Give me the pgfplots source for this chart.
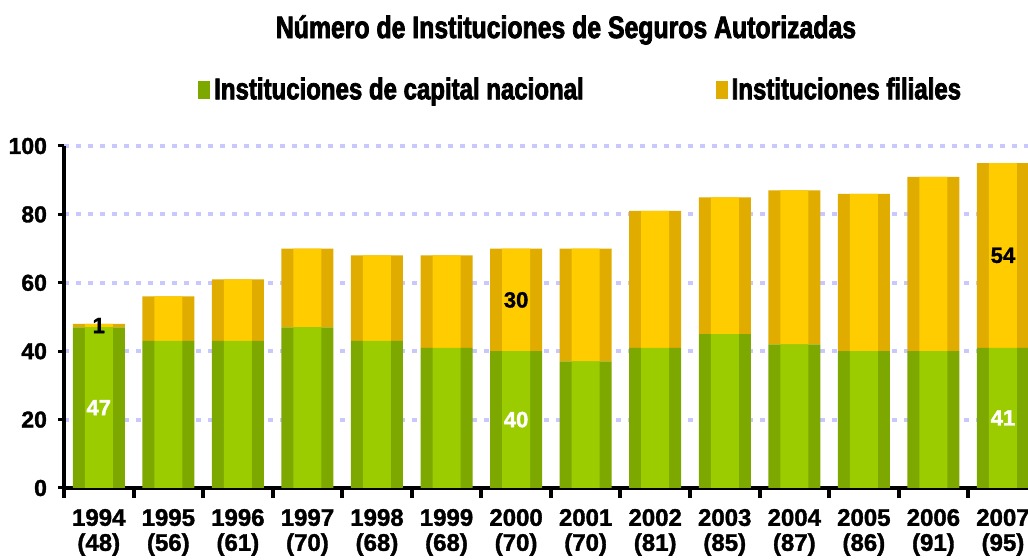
\documentclass[border=0pt]{standalone}
\usepackage{fontspec}
\setmainfont{Liberation Sans}
\newfontfamily\heavyfont[FakeStretch=0.8, FakeBold=2.5]{Liberation Sans Bold}
\newfontfamily\tickfont[FakeBold=1.5]{Liberation Sans Bold}
\usepackage{pgfplots}
\pgfplotsset{compat=1.18}
\usepackage{pgfplotstable}

\definecolor{grnL}{HTML}{9ACC00}
\definecolor{grnM}{HTML}{7DA800}
\definecolor{ylwL}{HTML}{FFCC00}
\definecolor{ylwM}{HTML}{E0AC00}
\definecolor{gridc}{HTML}{C8C8FF}

% year index, capital nacional, filiales
\pgfplotstableread{
x nac fil
0 47 1
1 43 13
2 43 18
3 47 23
4 43 25
5 41 27
6 40 30
7 37 33
8 41 40
9 45 40
10 42 45
11 40 46
12 40 51
13 41 54
}\instdata

\pgfplotsset{
  instaxis/.style={
    at={(32pt,36pt)}, anchor=south west, scale only axis,
    width=482pt, height=171pt,
    ybar stacked,
    xmin=-0.5, xmax=13.36, ymin=0, ymax=100,
  },
}

\begin{document}
\begin{tikzpicture}
\useasboundingbox (0,0) rectangle (514pt,280pt);
\node[font=\heavyfont\fontsize{15.5}{17}\selectfont] at (283pt,265pt)
  {Número de Instituciones de Seguros Autorizadas};
\begin{axis}[
  instaxis, bar width=26pt,
  axis x line*=bottom, axis y line*=left,
  axis line style={line width=2pt, black},
  xtick={0,...,13},
  xticklabels={{1994\\(48)},{1995\\(56)},{1996\\(61)},{1997\\(70)},{1998\\(68)},
    {1999\\(68)},{2000\\(70)},{2001\\(70)},{2002\\(81)},{2003\\(85)},{2004\\(87)},
    {2005\\(86)},{2006\\(91)},{2007\\(95)}},
  x tick style={draw=none},
  xticklabel style={align=center, font=\tickfont\fontsize{12}{12.5}\selectfont, yshift=-4pt},
  extra x ticks={-0.5,0.5,...,12.5},
  extra x tick labels={},
  extra x tick style={grid=none, tick align=outside, major tick length=5pt,
    x tick style={draw=black, line width=2pt}},
  ytick={0,20,...,100},
  tick align=outside, major tick length=3pt,
  y tick style={line width=1.5pt, black},
  yticklabel style={font=\tickfont\fontsize{11.5}{13}\selectfont, xshift=-2pt},
  /pgf/number format/assume math mode=true,
  ymajorgrids,
  grid style={gridc, line width=2pt, dash pattern=on 2.5pt off 3.5pt},
  legend columns=2,
  legend style={at={(0.537,1.164)}, anchor=center, draw=none, fill=none,
    font=\heavyfont\fontsize{15}{17}\selectfont,
    /tikz/every even column/.append style={column sep=64pt}},
  legend image code/.code={\fill[#1] (0pt,-4.5pt) rectangle (6pt,4.5pt);},
]
% full-width bars (darker edges)
\addplot[draw=none, fill=grnM] table[x=x, y=nac] {\instdata};
\addplot[draw=none, fill=ylwM] table[x=x, y=fil] {\instdata};
\legend{Instituciones de capital nacional, Instituciones filiales}
\end{axis}
% lighter centre of each bar
\begin{axis}[
  instaxis, bar width=14pt, hide axis,
  after end axis/.code={
    \node[white, font=\tickfont\fontsize{11}{13}\selectfont] at (axis cs:0,23.5) {47};
    \node[black, font=\tickfont\fontsize{11}{13}\selectfont] at (axis cs:0,47.5) {1};
    \node[white, font=\tickfont\fontsize{11}{13}\selectfont] at (axis cs:6,20) {40};
    \node[black, font=\tickfont\fontsize{11}{13}\selectfont] at (axis cs:6,55) {30};
    \node[white, font=\tickfont\fontsize{11}{13}\selectfont] at (axis cs:13,20.5) {41};
    \node[black, font=\tickfont\fontsize{11}{13}\selectfont] at (axis cs:13,68) {54};
  },
]
\addplot[draw=none, fill=grnL] table[x=x, y=nac] {\instdata};
\addplot[draw=none, fill=ylwL] table[x=x, y=fil] {\instdata};
\end{axis}
\end{tikzpicture}
\end{document}
